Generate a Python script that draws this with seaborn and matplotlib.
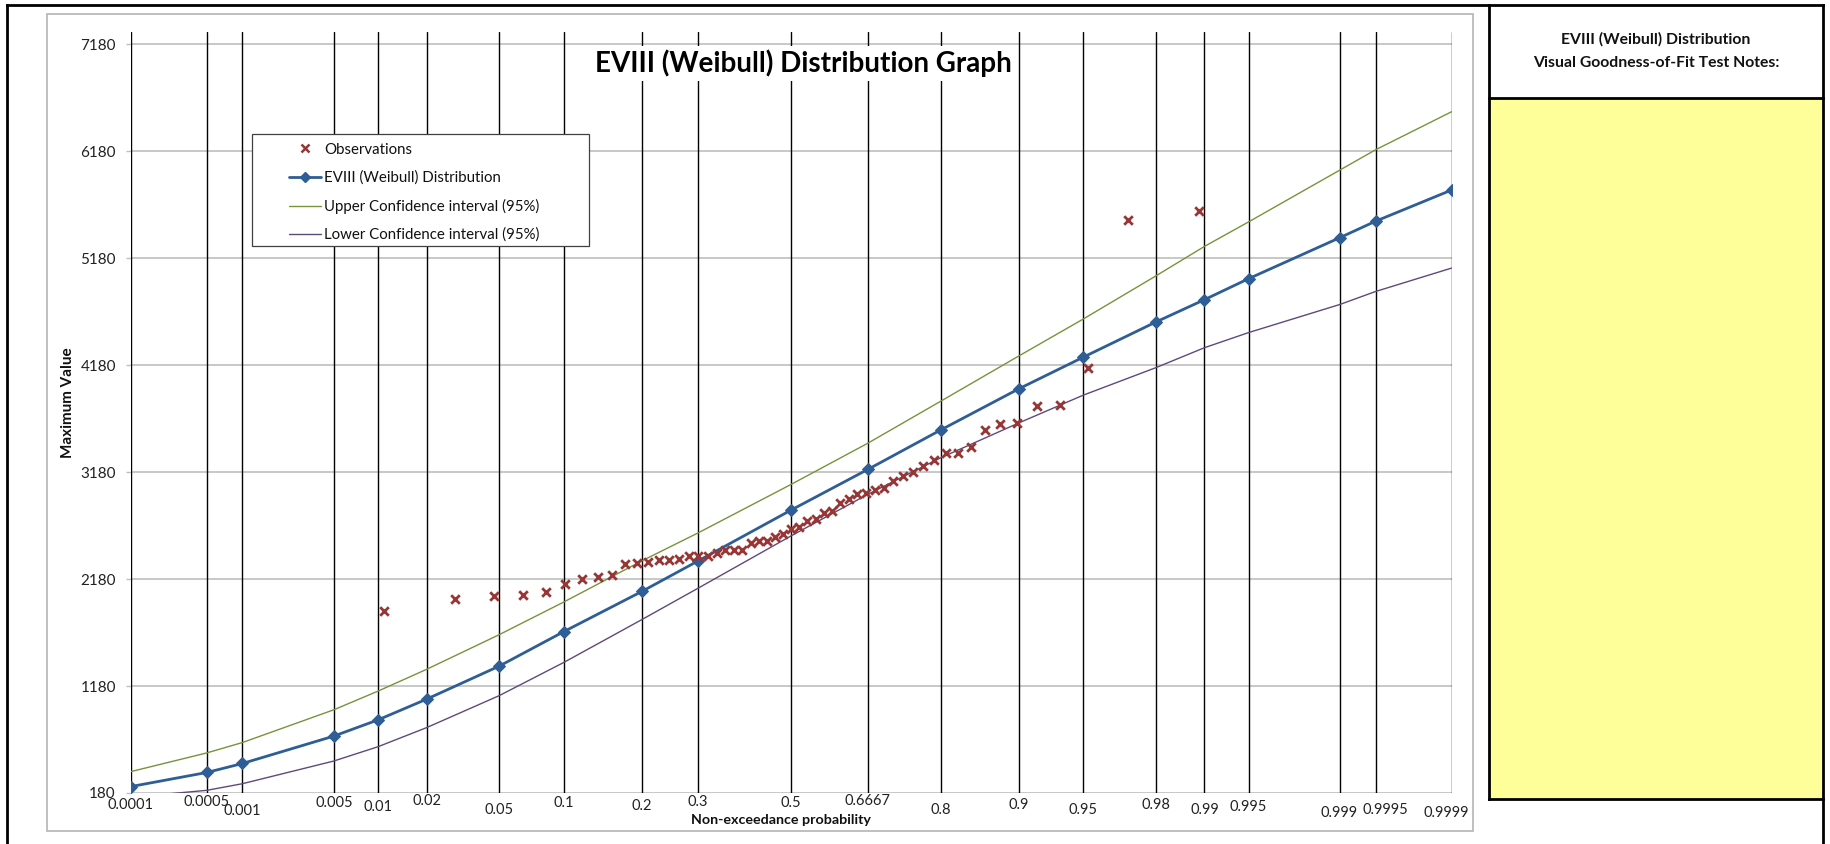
import math
import numpy as np
import matplotlib
matplotlib.use("Agg")
import matplotlib.pyplot as plt
from matplotlib.patches import Rectangle
from matplotlib.lines import Line2D
from matplotlib.transforms import blended_transform_factory, offset_copy
import seaborn as sns

# ---------------- data ----------------
tick_probs = [0.0001, 0.0005, 0.001, 0.005, 0.01, 0.02, 0.05, 0.1, 0.2, 0.3, 0.5,
              0.6667, 0.8, 0.9, 0.95, 0.98, 0.99, 0.995, 0.999, 0.9995, 0.9999]
tick_labels = ["0.0001", "0.0005", "0.001", "0.005", "0.01", "0.02", "0.05", "0.1",
               "0.2", "0.3", "0.5", "0.6667", "0.8", "0.9", "0.95", "0.98", "0.99",
               "0.995", "0.999", "0.9995", "0.9999"]
weibull_fit = [240, 372, 456, 712, 864, 1057, 1366, 1688, 2064, 2350, 2826,
               3205, 3574, 3959, 4255, 4584, 4792, 4989, 5373, 5526, 5818]
upper_ci = [380, 555, 652, 958, 1133, 1336, 1660, 1965, 2350, 2612, 3066,
            3450, 3843, 4266, 4612, 5015, 5290, 5520, 6005, 6194, 6550]
lower_ci = [140, 205, 267, 479, 613, 791, 1090, 1400, 1801, 2095, 2585,
            2972, 3314, 3640, 3900, 4157, 4343, 4485, 4748, 4869, 5088]
obs_prob = [0.01087, 0.02899, 0.04710, 0.06522, 0.08333, 0.10145, 0.11957, 0.13768,
            0.15580, 0.17391, 0.19203, 0.21014, 0.22826, 0.24638, 0.26449, 0.28261,
            0.30072, 0.31884, 0.33696, 0.35507, 0.37319, 0.39130, 0.40942, 0.42754,
            0.44565, 0.46377, 0.48188, 0.50000, 0.51812, 0.53623, 0.55435, 0.57246,
            0.59058, 0.60870, 0.62681, 0.64493, 0.66304, 0.68116, 0.69928, 0.71739,
            0.73551, 0.75362, 0.77174, 0.78986, 0.80797, 0.82609, 0.84420, 0.86232,
            0.88043, 0.89855, 0.91667, 0.93478, 0.95290, 0.97101, 0.98913]
obs_values = [1878, 1993, 2024, 2027, 2061, 2133, 2184, 2195, 2219, 2319, 2333,
              2340, 2358, 2358, 2365, 2396, 2399, 2399, 2427, 2450, 2452, 2455,
              2521, 2532, 2537, 2573, 2603, 2650, 2668, 2726, 2746, 2802, 2817,
              2892, 2932, 2972, 2985, 3010, 3035, 3095, 3145, 3183, 3236, 3298,
              3356, 3360, 3412, 3577, 3630, 3636, 3800, 3810, 4157, 5537, 5624]
y_ticks = [180, 1180, 2180, 3180, 4180, 5180, 6180, 7180]

# ---------------- layout (pixels of 1831x844) ----------------
W, H = 1831, 844
label_y_px = [805, 802, 811, 803, 807, 801, 810, 803, 806, 802, 803,
              801, 810, 805, 810, 805, 810, 807, 813, 810, 813]
label_dx_px = [0, 0, 0, 0, 0, 0, 0, 0, 0, 0, 0,
               0, 0, 0, 0, 0, 0, 0, -1, 10, -5]

def fx(px):
    return px / W

def fy(py):
    return 1 - py / H

# normal probability scale
_a = [-3.969683028665376e+01, 2.209460984245205e+02, -2.759285104469687e+02,
      1.383577518672690e+02, -3.066479806614716e+01, 2.506628277459239e+00]
_b = [-5.447609879822406e+01, 1.615858368580409e+02, -1.556989798598866e+02,
      6.680131188771972e+01, -1.328068155288572e+01]
_c = [-7.784894002430293e-03, -3.223964580411365e-01, -2.400758277161838e+00,
      -2.549732539343734e+00, 4.374664141464968e+00, 2.938163982698783e+00]
_d = [7.784695709041462e-03, 3.224671290700398e-01, 2.445134137142996e+00,
      3.754408661907416e+00]

def _ppf(p):
    p = min(max(float(p), 1e-12), 1 - 1e-12)
    plow = 0.02425
    if p < plow:
        q = math.sqrt(-2 * math.log(p))
        return (((((_c[0]*q+_c[1])*q+_c[2])*q+_c[3])*q+_c[4])*q+_c[5]) / \
               ((((_d[0]*q+_d[1])*q+_d[2])*q+_d[3])*q+1)
    if p > 1 - plow:
        q = math.sqrt(-2 * math.log(1 - p))
        return -(((((_c[0]*q+_c[1])*q+_c[2])*q+_c[3])*q+_c[4])*q+_c[5]) / \
                ((((_d[0]*q+_d[1])*q+_d[2])*q+_d[3])*q+1)
    q = p - 0.5
    r = q * q
    return (((((_a[0]*r+_a[1])*r+_a[2])*r+_a[3])*r+_a[4])*r+_a[5])*q / \
           (((((_b[0]*r+_b[1])*r+_b[2])*r+_b[3])*r+_b[4])*r+1)

def _cdf(z):
    return 0.5 * (1 + math.erf(float(z) / math.sqrt(2)))

_vppf = np.vectorize(_ppf, otypes=[float])
_vcdf = np.vectorize(_cdf, otypes=[float])

def fwd(p):
    return _vppf(np.asarray(p, dtype=float))

def inv(z):
    return _vcdf(np.asarray(z, dtype=float))

# ---------------- style ----------------
sns.set_style("white")
plt.rcParams["font.family"] = ["Lato", "DejaVu Sans"]

BLUE = "#2E5E95"
GREEN = "#77933C"
PURPLE = "#5F497A"
RED = "#983535"
GRID = "#BFBFBF"

fig = plt.figure(figsize=(W / 100, H / 100), dpi=100)
fig.patch.set_facecolor("white")

ax_left, ax_right, ax_top, ax_bottom = 130.8, 1451.7, 32, 793
ax = fig.add_axes([fx(ax_left), fy(ax_bottom), (ax_right - ax_left) / W,
                   (ax_bottom - ax_top) / H])
ax.set_xscale("function", functions=(fwd, inv))
ax.set_xlim(0.0001, 0.9999)
ax.set_ylim(180, 7295)
for s in ax.spines.values():
    s.set_visible(False)

# horizontal gridlines
for yv in y_ticks:
    ax.axhline(yv, color=GRID, lw=1.2, zorder=1)
# vertical probability lines
for p in tick_probs:
    ax.axvline(p, color="black", lw=1.0, zorder=1.5)

# series
sns.lineplot(x=tick_probs, y=upper_ci, ax=ax, color=GREEN, lw=1.0, zorder=2,
             estimator=None, sort=False)
sns.lineplot(x=tick_probs, y=lower_ci, ax=ax, color=PURPLE, lw=1.0, zorder=2,
             estimator=None, sort=False)
sns.lineplot(x=tick_probs, y=weibull_fit, ax=ax, color=BLUE, lw=2.0, marker="D",
             markersize=6, markeredgecolor=BLUE, zorder=3, estimator=None, sort=False)
sns.scatterplot(x=obs_prob, y=obs_values, ax=ax, marker="x", color=RED, s=38,
                linewidth=2.0, zorder=3.5)

# y ticks
ax.set_yticks(y_ticks)
ax.set_yticklabels([str(v) for v in y_ticks])
ax.tick_params(axis="y", which="both", left=True, length=3.6, width=1.0,
               color=GRID, pad=7.2, labelsize=11, labelcolor="#222222")
ax.set_xticks([])
ax.xaxis.set_minor_locator(matplotlib.ticker.NullLocator())
ax.set_xlabel("")
ax.set_ylabel("")
if ax.get_legend() is not None:
    ax.get_legend().remove()

# staggered x tick labels
tr = blended_transform_factory(ax.transData, fig.transFigure)
for p, lab, ypx, dx in zip(tick_probs, tick_labels, label_y_px, label_dx_px):
    ax.text(p, fy(ypx), lab,
            transform=offset_copy(tr, fig=fig, x=dx, y=0, units="dots"),
            ha="center", va="center", fontsize=10.5, color="#222222", clip_on=False)

# axis titles
fig.text(fx(781), fy(820), "Non-exceedance probability", ha="center", va="center",
         fontsize=10.3, fontweight="bold", color="#111111")
fig.text(fx(68), fy(403), "Maximum Value", ha="center", va="center", rotation=90,
         fontsize=11, fontweight="bold", color="#111111")

# chart title with white box
fig.text(fx(803), fy(63.5), "EVIII (Weibull) Distribution Graph", ha="center",
         va="center", fontsize=20, fontweight="bold", color="black",
         bbox=dict(facecolor="white", edgecolor="none", boxstyle="square,pad=0.12"),
         zorder=10)

# legend (manual frame + matplotlib legend)
ax.add_patch(Rectangle((fx(252), fy(246)), (589 - 252) / W, (246 - 134) / H,
                       transform=fig.transFigure, facecolor="white",
                       edgecolor="#404040", lw=0.9, zorder=4.5, clip_on=False))
handles = [
    Line2D([], [], ls="none", marker="x", color=RED, markersize=5.5, mew=1.8),
    Line2D([], [], color=BLUE, lw=2.0, marker="D", markersize=5, markeredgecolor=BLUE),
    Line2D([], [], color=GREEN, lw=1.0),
    Line2D([], [], color=PURPLE, lw=1.0),
]
labels = ["Observations", "EVIII (Weibull) Distribution",
          "Upper Confidence interval (95%)", "Lower Confidence interval (95%)"]
leg = ax.legend(handles, labels, loc="upper left",
                bbox_to_anchor=(fx(289), fy(142.5)), bbox_transform=fig.transFigure,
                frameon=False, borderpad=0, borderaxespad=0, handlelength=2.1,
                handletextpad=0.25, labelspacing=0.93, fontsize=10.8)
leg.set_zorder(5)
for t in leg.get_texts():
    t.set_color("#111111")

# chart area border
fig.add_artist(Rectangle((fx(47), fy(831)), (1473 - 47) / W, (831 - 14) / H,
                         transform=fig.transFigure, facecolor="none",
                         edgecolor="#B4B4B4", lw=1.2))

# right notes panel
fig.add_artist(Rectangle((fx(1489), fy(799)), (1823 - 1489) / W, (799 - 98) / H,
                         transform=fig.transFigure, facecolor="#FFFF99",
                         edgecolor="none"))
def fline(xs, ys, lw=2.0):
    fig.add_artist(Line2D([fx(x) for x in xs], [fy(y) for y in ys],
                          transform=fig.transFigure, color="black", lw=lw,
                          solid_capstyle="projecting"))

fline([7, 7], [5, 844])
fline([7, 1823], [5, 5])
fline([1823, 1823], [5, 844])
fline([1489, 1489], [5, 799])
fline([1489, 1823], [98, 98])
fline([1489, 1823], [799, 799])

fig.text(fx(1656), fy(39.5), "EVIII (Weibull) Distribution", ha="center", va="center",
         fontsize=11.3, fontweight="bold", color="#111111")
fig.text(fx(1656), fy(63), "Visual Goodness-of-Fit Test Notes:", ha="center",
         va="center", fontsize=11.3, fontweight="bold", color="#111111")

fig.savefig("out.png", dpi=100, facecolor="white")
